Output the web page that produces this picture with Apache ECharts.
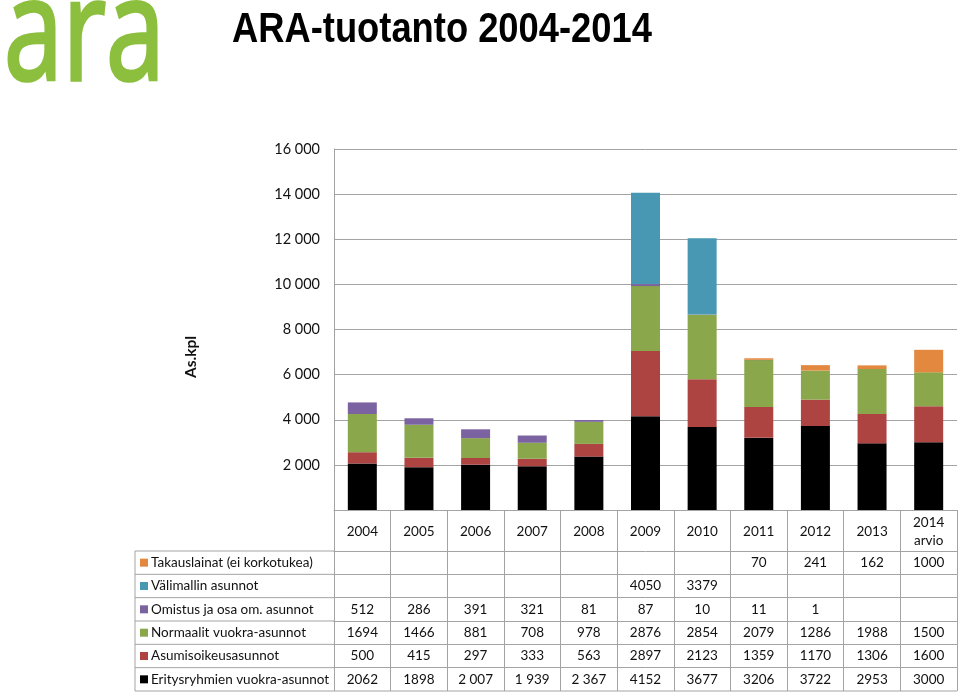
<!DOCTYPE html>
<html>
<head>
<meta charset="utf-8">
<script src="https://cdn.jsdelivr.net/npm/echarts@6/dist/echarts.min.js"></script>
<style>
html,body{margin:0;padding:0;background:#fff;}
#main{width:960px;height:692px;}
</style>
</head>
<body>
<div id="main"></div>
<script>
// ---- data ----
const years = ['2004','2005','2006','2007','2008','2009','2010','2011','2012','2013','2014\narvio'];
const seriesNames = ['Takauslainat (ei korkotukea)','Välimallin asunnot','Omistus ja osa om. asunnot','Normaalit vuokra-asunnot','Asumisoikeusasunnot','Eritysryhmien vuokra-asunnot'];
const takauslainat = [null,null,null,null,null,null,null,70,241,162,1000];
const valimallin   = [null,null,null,null,null,4050,3379,null,null,null,null];
const omistus      = [512,286,391,321,81,87,10,11,1,null,null];
const normaalit    = [1694,1466,881,708,978,2876,2854,2079,1286,1988,1500];
const asumisoikeus = [500,415,297,333,563,2897,2123,1359,1170,1306,1600];
const erityis      = [2062,1898,2007,1939,2367,4152,3677,3206,3722,2953,3000];
const erityisLabels = ['2062','1898','2 007','1 939','2 367','4152','3677','3206','3722','2953','3000'];
const yTicks = [0,2000,4000,6000,8000,10000,12000,14000,16000];

const colors = ['#e3883f','#4898b4','#7b62a0','#8aa74c','#ad4442','#000000'];
const rows = [takauslainat, valimallin, omistus, normaalit, asumisoikeus, erityis];
const rowLabels = [
  takauslainat.map(v => v == null ? '' : String(v)),
  valimallin.map(v => v == null ? '' : String(v)),
  omistus.map(v => v == null ? '' : String(v)),
  normaalit.map(v => v == null ? '' : String(v)),
  asumisoikeus.map(v => v == null ? '' : String(v)),
  erityisLabels
];

// ---- layout ----
const gridLeft = 334, gridRight = 957, gridTop = 149, gridBottom = 510;
const headerBottom = 551, rowH = (691 - 551) / 6, tableLeft = 135;
const lineColor = '#a3a3a3';
const font = 'Lato, "Noto Sans", sans-serif';

const chart = echarts.init(document.getElementById('main'));

const xAxes = [{
  type: 'category', data: years, gridIndex: 0, position: 'bottom',
  axisLine: {show: true, lineStyle: {color: lineColor, width: 1}},
  axisTick: {show: true, length: headerBottom - gridBottom, lineStyle: {color: lineColor}},
  axisLabel: {color: '#111', fontFamily: font, fontSize: 13.5, lineHeight: 18, margin: 22, verticalAlign: 'middle', interval: 0}
}];
for (let i = 0; i < 6; i++) {
  const top = headerBottom + i * rowH;
  const lbl = rowLabels[i];
  xAxes.push({
    type: 'category', data: years, gridIndex: 0, position: 'bottom',
    offset: top - gridBottom,
    axisLine: {show: true, lineStyle: {color: lineColor, width: 1}},
    axisTick: {show: true, length: rowH, lineStyle: {color: lineColor}},
    axisLabel: {color: '#111', fontFamily: font, fontSize: 13.5, margin: rowH / 2, verticalAlign: 'middle', interval: 0,
      formatter: (v, idx) => lbl[idx]},
    splitLine: {show: false}
  });
}

// stacking order bottom -> top
const order = [5,4,3,2,1,0];
const series = order.map(i => ({
  name: seriesNames[i], type: 'bar', stack: 'total', data: rows[i],
  barWidth: 29, itemStyle: {color: colors[i]}, xAxisIndex: 0
}));

// left legend column of table
const graphics = [];
for (let i = 0; i <= 6; i++) {
  const y = headerBottom + i * rowH;
  graphics.push({type: 'line', shape: {x1: tableLeft, y1: y, x2: i === 6 ? gridRight : gridLeft, y2: y},
    style: {stroke: lineColor, lineWidth: 1}, silent: true});
}
graphics.push({type: 'line', shape: {x1: tableLeft, y1: headerBottom, x2: tableLeft, y2: 691}, style: {stroke: lineColor, lineWidth: 1}});
for (let i = 0; i < 6; i++) {
  const cy = headerBottom + (i + 0.5) * rowH;
  graphics.push({type: 'rect', shape: {x: 140, y: cy - 4, width: 8, height: 8}, style: {fill: colors[i]}});
  graphics.push({type: 'text', x: 151, y: cy, style: {text: seriesNames[i], fill: '#111', font: '13.5px ' + font, verticalAlign: 'middle', align: 'left'}});
}
// title
graphics.push({type: 'text', x: 232, y: 30, scaleX: 0.865, style: {text: 'ARA-tuotanto 2004-2014', fill: '#000', font: 'bold 42px "Liberation Sans", Arial, sans-serif', verticalAlign: 'middle', align: 'left'}});
// logo
graphics.push({type: 'text', x: 4, y: 40, scaleX: 0.745, style: {text: 'ara', fill: '#8cbf3e', stroke: '#8cbf3e', lineWidth: 3.5, font: '142px "Open Sans", sans-serif', verticalAlign: 'middle', align: 'left'}});
// y axis title
graphics.push({type: 'text', x: 191, y: 357, rotation: Math.PI / 2, style: {text: 'As.kpl', fill: '#111', font: 'bold 15.5px ' + font, verticalAlign: 'middle', align: 'center'}});

chart.setOption({
  animation: false,
  backgroundColor: '#fff',
  grid: {left: gridLeft, right: 960 - gridRight, top: gridTop, bottom: 692 - gridBottom, containLabel: false},
  xAxis: xAxes,
  yAxis: {
    type: 'value', min: 0, max: 16000, interval: 2000,
    axisLine: {show: true, lineStyle: {color: lineColor}},
    axisTick: {show: false},
    splitLine: {show: true, lineStyle: {color: lineColor, width: 1}},
    axisLabel: {color: '#111', fontFamily: font, fontSize: 14.5, margin: 14,
      formatter: v => v === 0 ? '' : String(v).replace(/\B(?=(\d{3})+(?!\d))/g, ' ')}
  },
  series: series,
  graphic: graphics
});
</script>
</body>
</html>
